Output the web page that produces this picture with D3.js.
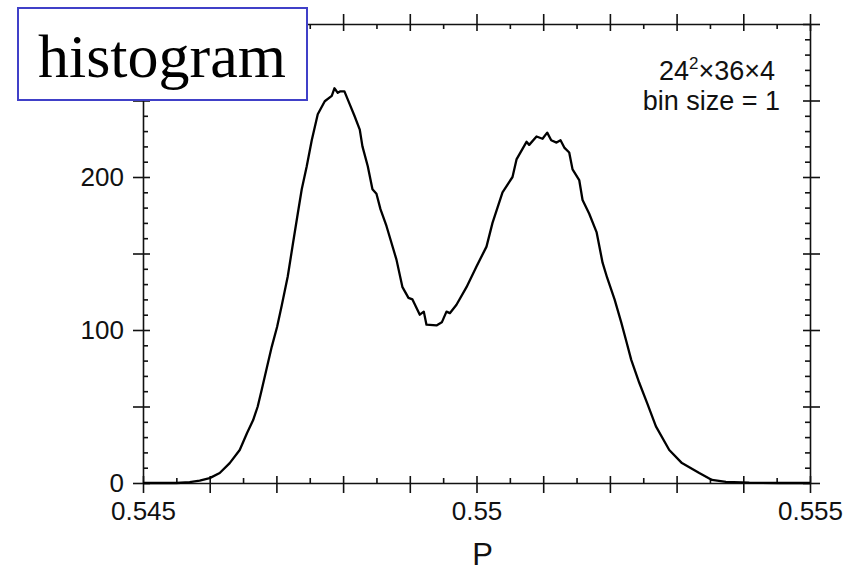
<!DOCTYPE html>
<html>
<head>
<meta charset="utf-8">
<script src="https://cdn.jsdelivr.net/npm/d3@7"></script>
<style>
  body { margin: 0; background: #fff; }
  svg { display: block; }
</style>
</head>
<body>
<div id="graph-container"></div>
<script>
// histogram of P, two peaks
const pValues = [0.5450, 0.5455, 0.5457, 0.54585, 0.5460, 0.54615, 0.5463, 0.54645, 0.54656, 0.54665,
  0.54672, 0.54678, 0.54686, 0.54693, 0.54701, 0.54708, 0.54717, 0.54725, 0.54732, 0.54738,
  0.547455, 0.54753, 0.54762, 0.547725, 0.54783, 0.54787, 0.54792, 0.54796, 0.54802, 0.5481,
  0.54817, 0.54825, 0.54829, 0.54837, 0.54844, 0.5485, 0.54856, 0.54865, 0.5488, 0.54889,
  0.54898, 0.54904, 0.54915, 0.54921, 0.54925, 0.5494, 0.54948, 0.54955, 0.5496, 0.5497,
  0.54985, 0.5500, 0.55015, 0.55024, 0.55039, 0.55054, 0.5506, 0.55075, 0.55079, 0.5509,
  0.55099, 0.55106, 0.55112, 0.5512, 0.55126, 0.55132, 0.55139, 0.55144, 0.55154, 0.55159,
  0.55169, 0.5518, 0.55189, 0.55196, 0.55207, 0.55217, 0.55225, 0.55232, 0.55244, 0.55256,
  0.55269, 0.55289, 0.55308, 0.55334, 0.55353, 0.55374, 0.55409, 0.55454, 0.5550];
const counts = [0, 0, 0.5, 1.5, 3.2, 6.5, 13, 21.6, 32.7, 41,
  50, 61, 76, 89, 102, 116, 135, 157, 176, 192,
  207, 224, 241, 249.5, 253, 258, 255, 256, 256, 247.5,
  240, 231, 220, 207, 192, 189, 179, 168, 146, 128,
  121, 120, 110, 112, 103.5, 103, 105, 112, 111, 116.5,
  128, 141.5, 154.5, 170, 190, 200, 211.5, 223, 221, 226.5,
  225, 229, 224, 222.5, 224, 219, 216, 205, 198, 185,
  176, 164, 144, 134, 120, 105, 92, 80.5, 65.5, 52,
  37, 21.6, 13, 6.5, 2, 0.7, 0.2, 0, 0];

// ticks
const xMajor = d3.range(545, 556).map(d => d / 1000);
const xMinor = d3.range(5455, 5550, 10).map(d => d / 10000);
const xLabels = [0.545, 0.55, 0.555];
const yMajor = d3.range(0, 301, 50);
const yMinor = d3.range(0, 301, 10).filter(d => d % 50 !== 0);
const yLabels = [0, 100, 200]; // the 300 label sits under the box

const boxTitle = "histogram";
const noteLines = ["24", "2", "\u00d736\u00d74", "bin size = 1"];
const xTitle = "P";

//create svg
const width = 851, height = 572;
const svg = d3.select("#graph-container")
  .append("svg")
  .attr("width", width)
  .attr("height", height);

const x = d3.scaleLinear().domain([0.545, 0.555]).range([143, 810]);
const y = d3.scaleLinear().domain([0, 300]).range([483, 24]);

const x0 = x.range()[0], x1 = x.range()[1];
const y0 = y.range()[0], y1 = y.range()[1];

const sans = "'Liberation Sans', Arial, Helvetica, sans-serif";
const fmtX = d => xLabels.some(l => Math.abs(l - d) < 1e-7) ? String(+d.toFixed(3)) : "";
const fmtY = d => yLabels.includes(d) ? String(d) : "";

// helper: draw one axis and style it
function drawAxis(axis, tx, ty, keepDomain) {
  const g = svg.append("g")
    .attr("transform", "translate(" + tx + "," + ty + ")")
    .call(axis);
  g.selectAll("line").attr("stroke", "#111").attr("stroke-width", 1.6);
  g.selectAll("path").attr("stroke", "#111").attr("stroke-width", 1.6);
  if (!keepDomain) g.select(".domain").remove();
  g.selectAll("text")
    .attr("font-family", sans)
    .attr("font-size", 26)
    .attr("fill", "#111");
  return g;
}

// bottom: outward major with labels, inward major, inward minor
drawAxis(d3.axisBottom(x).tickValues(xMajor).tickSize(10).tickSizeOuter(0).tickPadding(9).tickFormat(fmtX), 0, y0, true);
drawAxis(d3.axisBottom(x).tickValues(xMajor).tickSize(-7).tickSizeOuter(0).tickFormat(""), 0, y0, false);
drawAxis(d3.axisBottom(x).tickValues(xMinor).tickSize(-5).tickSizeOuter(0).tickFormat(""), 0, y0, false);

// top
drawAxis(d3.axisTop(x).tickValues(xMajor).tickSize(10).tickSizeOuter(0).tickFormat(""), 0, y1, true);
drawAxis(d3.axisTop(x).tickValues(xMajor).tickSize(-7).tickSizeOuter(0).tickFormat(""), 0, y1, false);
drawAxis(d3.axisTop(x).tickValues(xMinor).tickSize(-5).tickSizeOuter(0).tickFormat(""), 0, y1, false);

// left
drawAxis(d3.axisLeft(y).tickValues(yMajor).tickSize(10).tickSizeOuter(0).tickPadding(9).tickFormat(fmtY), x0, 0, true);
drawAxis(d3.axisLeft(y).tickValues(yMajor).tickSize(-7).tickSizeOuter(0).tickFormat(""), x0, 0, false);
drawAxis(d3.axisLeft(y).tickValues(yMinor).tickSize(-5).tickSizeOuter(0).tickFormat(""), x0, 0, false);

// right
drawAxis(d3.axisRight(y).tickValues(yMajor).tickSize(10).tickSizeOuter(0).tickFormat(""), x1, 0, true);
drawAxis(d3.axisRight(y).tickValues(yMajor).tickSize(-7).tickSizeOuter(0).tickFormat(""), x1, 0, false);
drawAxis(d3.axisRight(y).tickValues(yMinor).tickSize(-5).tickSizeOuter(0).tickFormat(""), x1, 0, false);

// the curve
const data = pValues.map((p, i) => ({ p: p, n: counts[i] }));
const line = d3.line().x(d => x(d.p)).y(d => y(d.n));

svg.append("path")
  .datum(data)
  .attr("d", line)
  .attr("fill", "none")
  .attr("stroke", "#000")
  .attr("stroke-width", 2.3)
  .attr("stroke-linejoin", "round");

// x axis title
svg.append("text")
  .attr("x", x(0.55) + 6)
  .attr("y", 565)
  .attr("text-anchor", "middle")
  .attr("font-family", sans)
  .attr("font-size", 31)
  .attr("fill", "#111")
  .text(xTitle);

// lattice note, top right
const note = svg.append("text")
  .attr("x", 775)
  .attr("y", 80)
  .attr("text-anchor", "end")
  .attr("font-family", sans)
  .attr("font-size", 27)
  .attr("fill", "#111");
note.append("tspan").text(noteLines[0]);
note.append("tspan").attr("dy", -11).attr("font-size", 17).text(noteLines[1]);
note.append("tspan").attr("dy", 11).text(noteLines[2]);

svg.append("text")
  .attr("x", 780)
  .attr("y", 110)
  .attr("text-anchor", "end")
  .attr("font-family", sans)
  .attr("font-size", 27)
  .attr("fill", "#111")
  .text(noteLines[3]);

// the "histogram" box, drawn over the top-left corner
svg.append("rect")
  .attr("x", 18)
  .attr("y", 8)
  .attr("width", 289)
  .attr("height", 92)
  .attr("fill", "#fff")
  .attr("stroke", "#4040c8")
  .attr("stroke-width", 2);

svg.append("text")
  .attr("x", 38)
  .attr("y", 77)
  .attr("font-family", "'Liberation Serif', 'Times New Roman', Times, serif")
  .attr("font-size", 62)
  .attr("fill", "#000")
  .text(boxTitle);
</script>
</body>
</html>
